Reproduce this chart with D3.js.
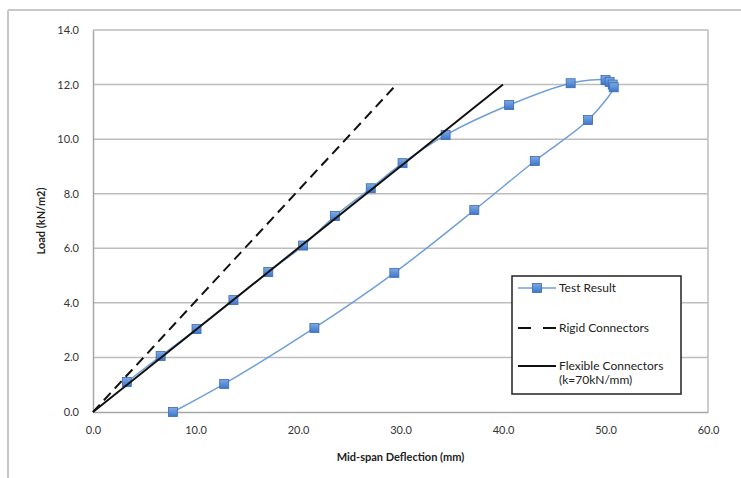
<!DOCTYPE html>
<html><head><meta charset="utf-8">
<script src="https://cdn.jsdelivr.net/npm/d3@7"></script>
<style>
html,body{margin:0;padding:0;background:#fff;}
svg{display:block;font-family:Lato,"Open Sans",sans-serif;}
</style></head><body>
<svg id="c" width="741" height="478"></svg>
<script>
// Test Result: mid-span deflection (mm), load (kN/m2)
const testX = [3.3, 6.6, 10.1, 13.7, 17.1, 20.5, 23.6, 27.1, 30.2, 34.4, 40.6, 46.6, 50.0, 50.4, 50.7, 50.8, 48.3, 43.1, 37.2, 29.4, 21.6, 12.8, 7.8];
const testY = [1.1, 2.05, 3.04, 4.1, 5.13, 6.1, 7.18, 8.2, 9.12, 10.15, 11.25, 12.05, 12.17, 12.1, 12.0, 11.9, 10.7, 9.2, 7.4, 5.1, 3.08, 1.03, 0.0];
const rigidX = [0, 29.6];
const rigidY = [0, 12.0];
const flexX = [0, 40.0];
const flexY = [0, 12.0];
const xTicks = [0, 10, 20, 30, 40, 50, 60];
const yTicks = [0, 2, 4, 6, 8, 10, 12, 14];
const legendLabels = ["Test Result", "Rigid Connectors", "Flexible Connectors", "(k=70kN/mm)"];

const svg = d3.select("#c");
const L = 93, R = 708, T = 30, B = 412;
const x = d3.scaleLinear().domain([0, 60]).range([L, R]);
const y = d3.scaleLinear().domain([0, 14]).range([B, T]);

// outer frame
svg.append("line").attr("x1", 8).attr("y1", 10).attr("x2", 741).attr("y2", 10).attr("stroke", "#c8c8c8").attr("stroke-width", 2);
svg.append("line").attr("x1", 8).attr("y1", 10).attr("x2", 8).attr("y2", 478).attr("stroke", "#c8c8c8").attr("stroke-width", 2);

// gridlines
svg.append("g").selectAll("line").data(yTicks.slice(1)).join("line")
  .attr("x1", L).attr("x2", R).attr("y1", d => y(d)).attr("y2", d => y(d))
  .attr("stroke", "#bdbdbd").attr("stroke-width", 1.5);
// right border
svg.append("line").attr("x1", R).attr("x2", R).attr("y1", T).attr("y2", B).attr("stroke", "#bdbdbd").attr("stroke-width", 1.5);

// axes
const xAxis = svg.append("g").attr("transform", `translate(0,${B})`)
  .call(d3.axisBottom(x).tickValues(xTicks).tickFormat(d3.format(".1f")).tickSize(0).tickPadding(14));
const yAxis = svg.append("g").attr("transform", `translate(${L},0)`)
  .call(d3.axisLeft(y).tickValues(yTicks).tickFormat(d3.format(".1f")).tickSize(0).tickPadding(14));
[xAxis, yAxis].forEach(a => {
  a.select(".domain").attr("stroke", "#a6a6a6").attr("stroke-width", 1.5);
  a.selectAll("text").attr("fill", "#333").style("font-size", "11px").style("font-family", "Lato, 'Open Sans', sans-serif");
});

// axis titles
svg.append("text").attr("x", (L + R) / 2).attr("y", 461).attr("text-anchor", "middle")
  .style("font-size", "11px").style("font-weight", "bold").attr("fill", "#222").text("Mid-span Deflection (mm)");
svg.append("text").attr("transform", `translate(45,${(T + B) / 2}) rotate(-90)`).attr("text-anchor", "middle")
  .style("font-size", "11px").style("font-weight", "bold").attr("fill", "#222").text("Load (kN/m2)");

const line = d3.line().x(d => x(d[0])).y(d => y(d[1]));
const line2 = d3.line().x(d => x(d[0])).y(d => y(d[1])).curve(d3.curveCatmullRom.alpha(0.5));

// test result
const testData = testX.map((v, i) => [v, testY[i]]);
svg.append("path").datum(testData).attr("d", line2)
  .attr("fill", "none").attr("stroke", "#6f9fd8").attr("stroke-width", 1.5);

const defs = svg.append("defs");
const g = defs.append("linearGradient").attr("id", "mk").attr("x1", 0).attr("y1", 0).attr("x2", 0).attr("y2", 1);
g.append("stop").attr("offset", "0%").attr("stop-color", "#7fa9e3");
g.append("stop").attr("offset", "100%").attr("stop-color", "#3c77cc");

svg.append("g").selectAll("rect").data(testData).join("rect")
  .attr("x", d => x(d[0]) - 4.5).attr("y", d => y(d[1]) - 4.5).attr("width", 9).attr("height", 9)
  .attr("fill", "url(#mk)").attr("stroke", "#3a6aae").attr("stroke-width", 0.8);

// rigid
svg.append("path").datum(rigidX.map((v, i) => [v, rigidY[i]])).attr("d", line)
  .attr("fill", "none").attr("stroke", "#111").attr("stroke-width", 2).attr("stroke-dasharray", "10,6");
// flexible
svg.append("path").datum(flexX.map((v, i) => [v, flexY[i]])).attr("d", line)
  .attr("fill", "none").attr("stroke", "#111").attr("stroke-width", 2);

// legend
const lg = svg.append("g");
lg.append("rect").attr("x", 512).attr("y", 276).attr("width", 169).attr("height", 118)
  .attr("fill", "#fff").attr("stroke", "#222").attr("stroke-width", 1.5);
const lx1 = 518, lx2 = 556, tx = 559;
lg.append("line").attr("x1", lx1).attr("x2", lx2).attr("y1", 288).attr("y2", 288).attr("stroke", "#6f9fd8").attr("stroke-width", 1.5);
lg.append("rect").attr("x", (lx1 + lx2) / 2 - 4.5).attr("y", 288 - 4.5).attr("width", 9).attr("height", 9)
  .attr("fill", "url(#mk)").attr("stroke", "#3a6aae").attr("stroke-width", 0.8);
lg.append("line").attr("x1", lx1).attr("x2", lx2).attr("y1", 328).attr("y2", 328).attr("stroke", "#111").attr("stroke-width", 2).attr("stroke-dasharray", "13,12");
lg.append("line").attr("x1", lx1).attr("x2", lx2).attr("y1", 366).attr("y2", 366).attr("stroke", "#111").attr("stroke-width", 2);
const ly = [292, 332, 370, 384];
lg.selectAll("text").data(legendLabels).join("text")
  .attr("x", tx).attr("y", (d, i) => ly[i]).attr("fill", "#222")
  .style("font-size", "12px").text(d => d);
</script>
</body></html>
